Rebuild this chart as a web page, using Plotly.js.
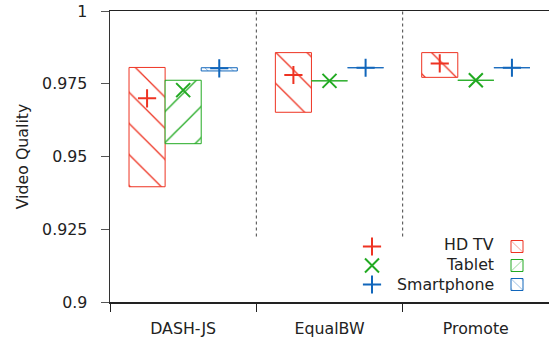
<!DOCTYPE html>
<html>
<head>
<meta charset="utf-8">
<script src="https://cdn.plot.ly/plotly-3.0.1.min.js"></script>
<style>html,body{margin:0;padding:0;background:#fff}#chart{width:549px;height:339px}</style>
</head>
<body>
<div id="chart"></div>
<script>
// ---- data ----
const categories = ['DASH-JS', 'EqualBW', 'Promote'];
const seriesNames = ['HD TV', 'Tablet', 'Smartphone'];
const hdtvLow = [0.9396, 0.9652, 0.9772];
const hdtvHigh = [0.9806, 0.9857, 0.9857];
const hdtvMean = [0.9700, 0.9780, 0.9820];
const tabletLow = [0.9544, 0.9760, 0.9762];
const tabletHigh = [0.9762, 0.9760, 0.9762];
const tabletMean = [0.9728, 0.9760, 0.9762];
const phoneLow = [0.9794, 0.9805, 0.9805];
const phoneHigh = [0.9805, 0.9805, 0.9805];
const phoneMean = [0.9803, 0.9805, 0.9805];
const yTickVals = [0.9, 0.925, 0.95, 0.975, 1];
const yTickText = ['0.9', '0.925', '0.95', '0.975', '1'];

// ---- style ----
const colors = ['#ee3322', '#22aa22', '#1166bb'];
const hatch = ['\\', '/', '\\'];
const hatchSize = [22, 22, 9];
const symbols = ['cross-thin-open', 'x-thin-open', 'cross-thin-open'];
const FONT = 'DejaVu Sans, Verdana, sans-serif';
const FS = 15.8;

const lows = [hdtvLow, tabletLow, phoneLow];
const highs = [hdtvHigh, tabletHigh, phoneHigh];
const means = [hdtvMean, tabletMean, phoneMean];

const traces = [];
seriesNames.forEach((name, s) => {
  traces.push({
    type: 'bar', name: '', legend: 'legend2', legendgroup: name,
    x: categories,
    base: lows[s],
    y: highs[s].map((h, i) => h - lows[s][i]),
    marker: {
      color: 'white',
      line: {color: colors[s], width: 1},
      pattern: {shape: hatch[s], fgcolor: colors[s], bgcolor: 'white', size: hatchSize[s], solidity: 0.06}
    },
    hoverinfo: 'skip'
  });
});
seriesNames.forEach((name, s) => {
  traces.push({
    type: 'scatter', mode: 'markers', name: '', legend: 'legend', legendgroup: name,
    x: categories, y: means[s],
    marker: {symbol: symbols[s], size: s === 1 ? 14 : 13, line: {color: colors[s], width: 2}, color: colors[s]},
    cliponaxis: false
  });
});

const px = v => (v - 110) / 439;
const py = v => (302 - v) / 291;

const annotations = seriesNames.map((name, s) => ({
  xref: 'paper', yref: 'paper', x: px(496), y: py(244 + 20 * s),
  xanchor: 'right', yanchor: 'middle', showarrow: false,
  text: name, font: {family: FONT, size: FS, color: '#222'}
}));

const layout = {
  width: 549, height: 339,
  margin: {l: 110, r: 0, t: 11, b: 37},
  paper_bgcolor: 'white', plot_bgcolor: 'white',
  font: {family: FONT, size: FS, color: '#222'},
  barmode: 'group', bargap: 0.26, bargroupgap: 0,
  scattermode: 'group', scattergap: 0.26,
  showlegend: true,
  legend: {x: px(352), xanchor: 'left', y: py(232), yanchor: 'top', bgcolor: 'rgba(0,0,0,0)',
           font: {size: 12}, traceorder: 'normal', itemwidth: 30},
  legend2: {x: px(497), xanchor: 'left', y: py(232), yanchor: 'top', bgcolor: 'rgba(0,0,0,0)',
            font: {size: 12}, traceorder: 'normal', itemwidth: 30},
  xaxis: {
    type: 'category', range: [-0.5, 2.5], tickson: 'boundaries',
    ticks: 'outside', ticklen: 8, tickcolor: '#222', tickwidth: 1,
    showline: true, linecolor: '#222', linewidth: 1.5, mirror: true,
    showgrid: false, zeroline: false, ticklabelstandoff: 12,
    tickfont: {family: FONT, size: FS, color: '#222'}
  },
  yaxis: {
    range: [0.9, 1], tickvals: yTickVals, ticktext: yTickText,
    ticks: 'outside', ticklen: 8, tickcolor: '#555', tickwidth: 1,
    showline: true, linecolor: '#333', linewidth: 1.5, mirror: false,
    showgrid: false, zeroline: false, ticklabelstandoff: 10,
    tickfont: {family: FONT, size: FS, color: '#222'},
    title: {text: 'Video Quality', standoff: 9, font: {family: FONT, size: FS, color: '#222'}}
  },
  shapes: [0.5, 1.5].map(xv => ({
    type: 'line', xref: 'x', yref: 'y', x0: xv, x1: xv, y0: 0.9225, y1: 1,
    line: {color: '#444', width: 1, dash: 'dot'}
  })),
  annotations: annotations
};

Plotly.newPlot('chart', traces, layout, {displayModeBar: false, staticPlot: true});
</script>
</body>
</html>
